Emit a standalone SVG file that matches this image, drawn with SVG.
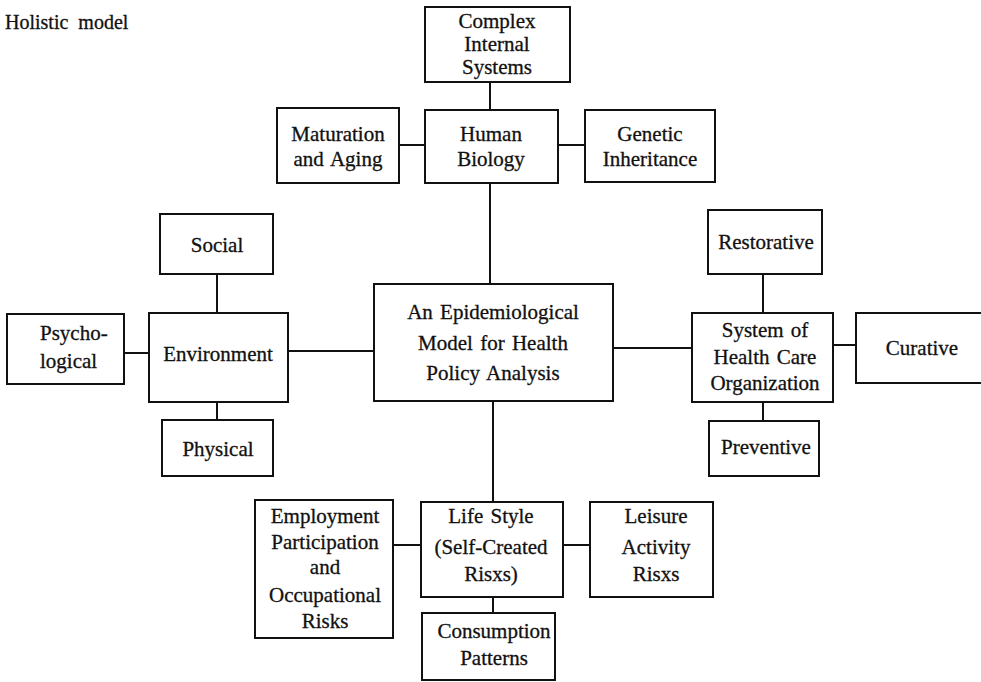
<svg xmlns="http://www.w3.org/2000/svg" width="981" height="682" viewBox="0 0 981 682">
<style>
rect.box{fill:#fff;stroke:#111;stroke-width:2}
line{stroke:#111;stroke-width:2}
text{font-family:"Liberation Serif","Times New Roman",serif;font-size:21px;fill:#111;stroke:#111;stroke-width:0.3;text-anchor:middle;word-spacing:2px}
text.title{font-size:20px;text-anchor:start;word-spacing:5px}
</style>
<rect width="981" height="682" fill="#fff"/>
<text class="title" x="5" y="29">Holistic model</text>
<g id="connectors">
<line x1="490" y1="82" x2="490" y2="110"/>
<line x1="399" y1="145" x2="425" y2="145"/>
<line x1="558" y1="145" x2="585" y2="145"/>
<line x1="490" y1="183" x2="490" y2="284"/>
<line x1="217" y1="274" x2="217" y2="313"/>
<line x1="124" y1="353" x2="149" y2="353"/>
<line x1="217" y1="402" x2="217" y2="420"/>
<line x1="288" y1="351" x2="374" y2="351"/>
<line x1="613" y1="348" x2="692" y2="348"/>
<line x1="763" y1="274" x2="763" y2="313"/>
<line x1="833" y1="345" x2="856" y2="345"/>
<line x1="763" y1="402" x2="763" y2="421"/>
<line x1="493" y1="401" x2="493" y2="502"/>
<line x1="393" y1="545" x2="421" y2="545"/>
<line x1="563" y1="545" x2="590" y2="545"/>
<line x1="493" y1="597" x2="493" y2="613"/>
</g>
<g id="complex"><rect class="box" x="425" y="7" width="145" height="75"/>
<text x="497" y="28">Complex</text><text x="497" y="51">Internal</text><text x="497" y="74">Systems</text></g>
<g id="human"><rect class="box" x="425" y="110" width="133" height="73"/>
<text x="491" y="141">Human</text><text x="491" y="166">Biology</text></g>
<g id="maturation"><rect class="box" x="277" y="108" width="122" height="75"/>
<text x="338" y="141">Maturation</text><text x="338" y="166">and Aging</text></g>
<g id="genetic"><rect class="box" x="585" y="110" width="130" height="72"/>
<text x="650" y="141">Genetic</text><text x="650" y="166">Inheritance</text></g>
<g id="social"><rect class="box" x="160" y="214" width="113" height="60"/>
<text x="217" y="252">Social</text></g>
<g id="psychological"><rect class="box" x="7" y="314" width="117" height="70"/>
<text x="40" y="340" style="text-anchor:start">Psycho-</text><text x="40" y="368" style="text-anchor:start">logical</text></g>
<g id="environment"><rect class="box" x="149" y="313" width="139" height="89"/>
<text x="218" y="361">Environment</text></g>
<g id="physical"><rect class="box" x="162" y="420" width="111" height="56"/>
<text x="218" y="456">Physical</text></g>
<g id="central"><rect class="box" x="374" y="284" width="239" height="117"/>
<text x="493" y="319">An Epidemiological</text><text x="493" y="350">Model for Health</text><text x="493" y="380">Policy Analysis</text></g>
<g id="restorative"><rect class="box" x="708" y="210" width="114" height="64"/>
<text x="766" y="249">Restorative</text></g>
<g id="system"><rect class="box" x="692" y="313" width="141" height="89"/>
<text x="765" y="337">System of</text><text x="765" y="364">Health Care</text><text x="765" y="390">Organization</text></g>
<g id="curative"><rect class="box" x="856" y="313" width="140" height="70"/>
<text x="922" y="355">Curative</text></g>
<g id="preventive"><rect class="box" x="709" y="421" width="110" height="55"/>
<text x="766" y="454">Preventive</text></g>
<g id="employment"><rect class="box" x="255" y="500" width="138" height="138"/>
<text x="325" y="523">Employment</text><text x="325" y="549">Participation</text><text x="325" y="574">and</text><text x="325" y="602">Occupational</text><text x="325" y="628">Risks</text></g>
<g id="lifestyle"><rect class="box" x="421" y="502" width="142" height="95"/>
<text x="491" y="523">Life Style</text><text x="491" y="554">(Self-Created</text><text x="491" y="581">Risxs)</text></g>
<g id="leisure"><rect class="box" x="590" y="502" width="123" height="95"/>
<text x="656" y="523">Leisure</text><text x="656" y="554">Activity</text><text x="656" y="581">Risxs</text></g>
<g id="consumption"><rect class="box" x="422" y="613" width="133" height="67"/>
<text x="494" y="638">Consumption</text><text x="494" y="665">Patterns</text></g>
</svg>
